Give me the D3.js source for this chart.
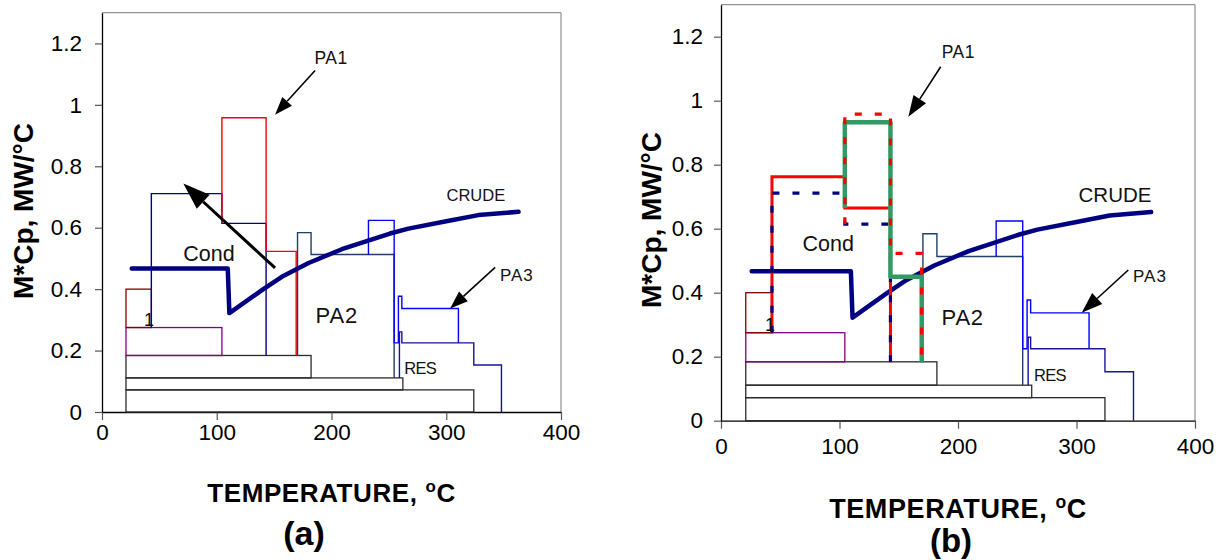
<!DOCTYPE html>
<html>
<head>
<meta charset="utf-8">
<script src="https://cdn.jsdelivr.net/npm/d3@7"></script>
<style>
  body { margin: 0; background: #fff; }
  svg { display: block; font-family: Arial, "Liberation Sans", sans-serif; }
</style>
</head>
<body>
<div id="chart"></div>
<script>

var xTicks = [0, 100, 200, 300, 400];
var yTicks = [0, 0.2, 0.4, 0.6, 0.8, 1, 1.2];

// [T start, T end, low, high]
var baseRects = [[20.9, 324, 0, 0.072], [20.9, 262.2, 0.072, 0.111], [20.9, 182.2, 0.111, 0.184]];
var purpleRect = [20.9, 104.5, 0.184, 0.275];
var maroonRect = [20.9, 43, 0.275, 0.4];

// [T, M*Cp] step curves
var condLine = [[43, 0.275], [43, 0.711], [104.5, 0.711], [104.5, 0.614], [143, 0.614], [143, 0.184]];
var pa1Line = [[104.5, 0.614], [104.5, 0.958], [143, 0.958], [143, 0.523], [169.2, 0.523], [169.2, 0.184]];
var pa2Line = [[170.4, 0.184], [170.4, 0.584], [182.2, 0.584], [182.2, 0.513], [254.6, 0.513], [254.6, 0.111]];
var pa3Line = [[232.2, 0.513], [232.2, 0.624], [254.6, 0.624], [254.6, 0.225], [258.3, 0.225], [258.3, 0.377],
               [261.3, 0.377], [261.3, 0.337], [310.6, 0.337], [310.6, 0.225]];
var resLine = [[259.2, 0.111], [259.2, 0.261], [261.3, 0.261], [261.3, 0.225], [324, 0.225], [324, 0.153],
               [348.1, 0.153], [348.1, 0]];
var crudeLine = [[25.9, 0.467], [109.6, 0.467], [111, 0.322], [140.6, 0.4], [156.7, 0.44], [180, 0.485],
                 [209, 0.53], [251, 0.581], [267, 0.597], [300, 0.621], [328, 0.641], [363, 0.652]];

// modified streams, panel (b)
var pa1Red = [[43, 0.273], [43, 0.762], [104.5, 0.762], [104.5, 0.665], [143, 0.665], [143, 0.183]];
var pa1Green = [[104.5, 0.665], [104.5, 0.933], [143, 0.933], [143, 0.45], [169.4, 0.45], [169.4, 0.181]];

// [text, T, M*Cp]
var labelsA = [["PA1", 199.6, 1.155], ["Cond", 93.3, 0.518], ["PA2", 204.6, 0.315], ["CRUDE", 325.8, 0.706],
               ["PA3", 361.5, 0.446], ["RES", 277.2, 0.142], ["1", 41, 0.3]];
var labelsB = [["PA1", 200.3, 1.153], ["Cond", 90.5, 0.556], ["PA2", 204, 0.325], ["CRUDE", 332.5, 0.705],
               ["PA3", 362, 0.453], ["RES", 277.6, 0.143], ["1", 41.4, 0.3]];

// [T from, M*Cp from, T to, M*Cp to]
var arrowsA = [[185.7, 1.112, 150.8, 0.968], [150.8, 0.469, 70.9, 0.744], [342.6, 0.471, 303.4, 0.337]];
var arrowsB = [[185.4, 1.106, 158.1, 0.95], [343.7, 0.471, 304.4, 0.3375]];

var W = 1226, H = 560;

var svg = d3.select("#chart").append("svg")
  .attr("width", W)
  .attr("height", H);

var labelSize = { "PA1": 17.5, "Cond": 21.5, "PA2": 22, "CRUDE": 16.5, "PA3": 17, "RES": 16.5, "1": 18 };
var labelSpacing = { "PA1": 0.5, "PA2": 0.8, "PA3": 1, "RES": -0.7 };

function drawArrow(g, x, y, a, width, headLen, headW) {
  var x1 = x(a[0]), y1 = y(a[1]), x2 = x(a[2]), y2 = y(a[3]);
  var ang = Math.atan2(y2 - y1, x2 - x1);
  var bx = x2 - headLen * Math.cos(ang), by = y2 - headLen * Math.sin(ang);
  var px = -Math.sin(ang) * headW / 2, py = Math.cos(ang) * headW / 2;
  g.append("line")
    .attr("x1", x1).attr("y1", y1).attr("x2", bx).attr("y2", by)
    .attr("stroke", "#000").attr("stroke-width", width);
  g.append("path")
    .attr("d", "M" + x2 + "," + y2 + "L" + (bx + px) + "," + (by + py) + "L" + (bx - px) + "," + (by - py) + "Z")
    .attr("fill", "#000");
}

function drawPanel(cfg) {

  var x = d3.scaleLinear().domain([0, 400]).range([cfg.left, cfg.right]);
  var y = d3.scaleLinear().domain([0, 1.3]).range([cfg.bottom, cfg.top]);
  var line = d3.line().x(d => x(d[0])).y(d => y(d[1]));

  var g = svg.append("g");

  // plot frame (top + right)
  g.append("path")
    .attr("d", "M" + cfg.left + "," + cfg.top + "H" + cfg.right + "V" + cfg.bottom)
    .attr("fill", "none").attr("stroke", "#7a7a7a").attr("stroke-width", 1);

  var xAxis = g.append("g")
    .attr("transform", "translate(0," + cfg.bottom + ")")
    .call(d3.axisBottom(x).tickValues(xTicks).tickSize(8).tickSizeOuter(0).tickFormat(d => d));
  xAxis.selectAll("text")
    .attr("y", cfg.xLabelGap).attr("dy", null)
    .attr("font-size", 22.5).attr("fill", "#000");

  var yAxis = g.append("g")
    .attr("transform", "translate(" + cfg.left + ",0)")
    .call(d3.axisLeft(y).tickValues(yTicks).tickSize(7).tickSizeOuter(0).tickPadding(cfg.yPad).tickFormat(d => d));
  yAxis.selectAll("text")
    .attr("font-size", 22.5).attr("fill", "#000");

  g.selectAll(".domain").attr("stroke", "#000").attr("stroke-width", 1.3);
  g.selectAll(".tick line").attr("stroke", "#555").attr("stroke-width", 1.2);

  // base rectangles
  g.selectAll("rect.base")
    .data(baseRects)
    .join("rect")
    .attr("class", "base")
    .attr("x", d => x(d[0]))
    .attr("y", d => y(d[3]))
    .attr("width", d => x(d[1]) - x(d[0]))
    .attr("height", d => y(d[2]) - y(d[3]))
    .attr("fill", "none").attr("stroke", "#2b2b2b").attr("stroke-width", 1.3);

  [[purpleRect, "#800080"], [maroonRect, "#800000"]].forEach(function (r) {
    var d = r[0];
    g.append("rect")
      .attr("x", x(d[0])).attr("y", y(d[3]))
      .attr("width", x(d[1]) - x(d[0])).attr("height", y(d[2]) - y(d[3]))
      .attr("fill", "none").attr("stroke", r[1]).attr("stroke-width", 1.3);
  });

  if (!cfg.modified) {
    g.append("path").attr("d", line(condLine))
      .attr("fill", "none").attr("stroke", "#000080").attr("stroke-width", 1.4);
    g.append("path").attr("d", line(pa1Line))
      .attr("fill", "none").attr("stroke", "#ff0000").attr("stroke-width", 1.4);
  }

  g.append("path").attr("d", line(pa2Line))
    .attr("fill", "none").attr("stroke", "#1f3f6a").attr("stroke-width", 1.4);
  g.append("path").attr("d", line(pa3Line))
    .attr("fill", "none").attr("stroke", "#0000ff").attr("stroke-width", 1.4);
  g.append("path").attr("d", line(resLine))
    .attr("fill", "none").attr("stroke", "#15159a").attr("stroke-width", 1.4);

  g.append("path").attr("d", line(crudeLine))
    .attr("fill", "none").attr("stroke", "#000080").attr("stroke-width", 4.5)
    .attr("stroke-linecap", "round").attr("stroke-linejoin", "round");

  if (cfg.modified) {
    g.append("path").attr("d", line(pa1Red))
      .attr("fill", "none").attr("stroke", "#ff0000").attr("stroke-width", 3);
    g.append("path").attr("d", line(condLine))
      .attr("fill", "none").attr("stroke", "#000080").attr("stroke-width", 3.2)
      .attr("stroke-dasharray", "7,13");
    g.append("path").attr("d", line(pa1Green))
      .attr("fill", "none").attr("stroke", "#339966").attr("stroke-width", 4.5)
      .attr("stroke-linejoin", "round");
    g.append("path").attr("d", line(pa1Line))
      .attr("fill", "none").attr("stroke", "#ff0000").attr("stroke-width", 3.2)
      .attr("stroke-dasharray", "7,13");
  }

  cfg.labels.forEach(function (l) {
    var size = l[0] == "CRUDE" ? cfg.crudeSize : labelSize[l[0]];
    g.append("text")
      .attr("x", x(l[1])).attr("y", y(l[2]))
      .attr("dy", "0.36em")
      .attr("text-anchor", "middle")
      .attr("font-size", size)
      .attr("letter-spacing", labelSpacing[l[0]] || 0)
      .attr("fill", "#111")
      .text(l[0]);
  });

  cfg.arrows.forEach(function (a, i) {
    var big = (a[2] - a[0]) < -50 && (a[3] - a[1]) > 0.2;
    if (big) drawArrow(g, x, y, a, 3, 27, 19);
    else drawArrow(g, x, y, a, 1.6, cfg.headLen, cfg.headW);
  });

  // axis titles
  g.append("text")
    .attr("transform", "translate(" + cfg.yTitleX + "," + cfg.yTitleY + ") rotate(-90)")
    .attr("text-anchor", "middle")
    .attr("font-size", 28).attr("font-weight", "bold")
    .text("M*Cp, MW/°C");

  var xt = g.append("text")
    .attr("x", (cfg.left + cfg.right) / 2)
    .attr("y", cfg.xTitleY)
    .attr("text-anchor", "middle")
    .attr("font-size", cfg.xTitleSize).attr("font-weight", "bold")
    .attr("letter-spacing", 0.6);
  xt.append("tspan").text("TEMPERATURE, ");
  xt.append("tspan").attr("font-size", cfg.xTitleSize * 0.65).attr("dy", -10).text("o");
  xt.append("tspan").attr("dy", 10).text("C");

  g.append("text")
    .attr("x", cfg.tagX)
    .attr("y", cfg.tagY)
    .attr("text-anchor", "middle")
    .attr("font-size", cfg.tagSize).attr("font-weight", "bold")
    .text(cfg.tag);
}

drawPanel({ left: 102, right: 561, top: 12.7, bottom: 412, xLabelGap: 28, yPad: 13,
            labels: labelsA, arrows: arrowsA, crudeSize: 16.5, headLen: 18, headW: 13,
            yTitleX: 33, yTitleY: 211, xTitleY: 501.5, xTitleSize: 26,
            tag: "(a)", tagX: 304, tagY: 544.5, tagSize: 34, modified: false });

drawPanel({ left: 721, right: 1195, top: 4.7, bottom: 420.7, xLabelGap: 33, yPad: 11,
            labels: labelsB, arrows: arrowsB, crudeSize: 20.5, headLen: 21, headW: 15,
            yTitleX: 661, yTitleY: 220, xTitleY: 518, xTitleSize: 27,
            tag: "(b)", tagX: 951, tagY: 552, tagSize: 33, modified: true });

</script>
</body>
</html>
